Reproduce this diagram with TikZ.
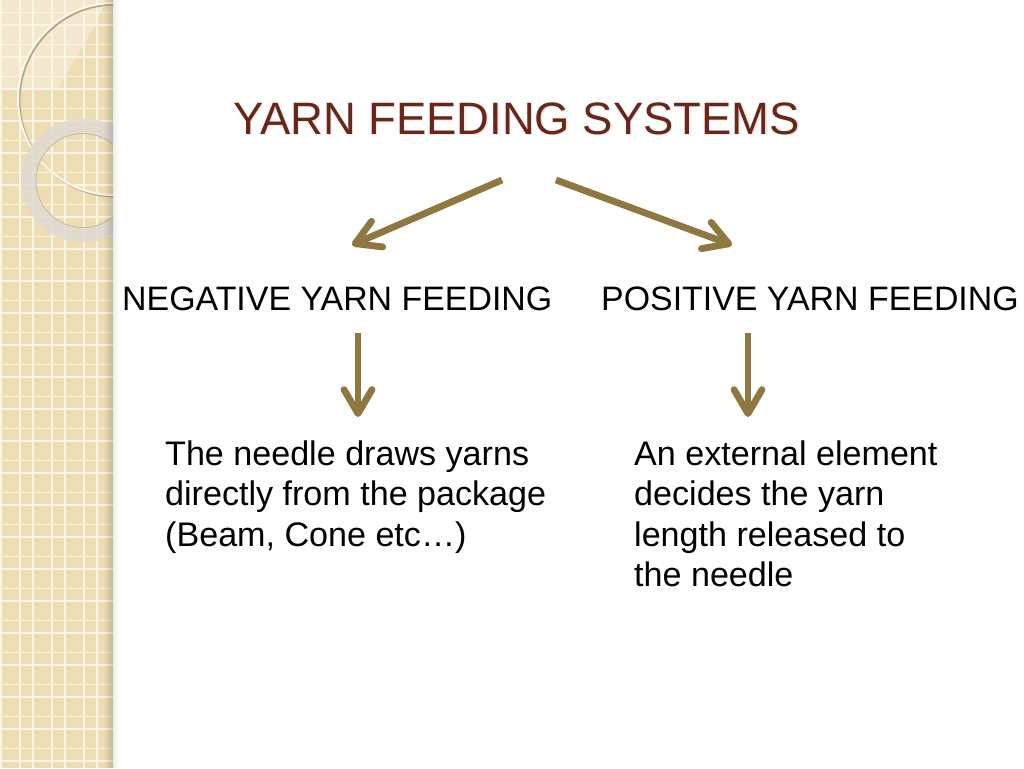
\documentclass[tikz,border=0pt]{standalone}
\usepackage{fontspec}
\setmainfont{Liberation Sans}
\usetikzlibrary{arrows.meta}
\definecolor{strip}{HTML}{EEDCB3}
\definecolor{stripl}{HTML}{F3E7CE}
\definecolor{gridc}{HTML}{FBF5E6}
\definecolor{cream}{HTML}{FCF8EC}
\definecolor{circshadow}{HTML}{B7A684}
\definecolor{ringc}{HTML}{DEDAD2}
\definecolor{ringedge}{HTML}{B9AF9C}
\definecolor{titlec}{HTML}{6A2616}
\definecolor{arrowc}{HTML}{8F7740}
\tikzset{
  titlestyle/.style={text=titlec, inner sep=0pt, font=\fontsize{45.4}{54}\selectfont},
  titleshadow/.style={text=black!40, opacity=0.2, inner sep=0pt, font=\fontsize{45.4}{54}\selectfont},
  subhead/.style={text=black, inner sep=0pt, anchor=base west, font=\fontsize{33.9}{40}\selectfont},
  bodytext/.style={text=black, inner sep=0pt, anchor=base west, font=\fontsize{34.1}{40.5}\selectfont},
  feedarrow/.style={draw=arrowc, line width=6.8pt, -{Straight Barb[length=24pt,width=28pt,round]}},
  gridline/.style={draw=gridc, line width=1.6pt}
}
\begin{document}
\begin{tikzpicture}[x=1pt,y=-1pt]
\useasboundingbox (0,0) rectangle (1024,768);
\fill[white] (0,0) rectangle (1024,768);
% decorative strip
\fill[strip] (0,0) rectangle (113,768);
\fill[stripl] (0,0) -- (106,0) -- (97,22) -- (57,90) -- (0,90) -- cycle;
\foreach \x in {1,20,33,52,65,84,97}
  \draw[gridline] (\x,0) -- (\x,768);
\foreach \k in {0,...,23}{
  \draw[gridline] (0,32*\k+12.5) -- (113,32*\k+12.5);
  \draw[gridline] (0,32*\k+25) -- (113,32*\k+25);
}
\begin{scope}
  \clip (0,0) rectangle (113,768);
  \draw[circshadow, line width=2pt] (115.5,100.5) circle (96);
  \draw[cream, line width=2pt] (114,99) circle (96);
  \fill[ringc, opacity=0.85, even odd rule] (83,180.5) circle (62) (83,180.5) circle (47);
  \draw[ringedge, line width=0.8pt, opacity=0.8] (83,180.5) circle (47);
\end{scope}
\foreach \i in {0,...,9}
  \fill[black, opacity=0.018*\i] (103+\i,0) rectangle (104+\i,768);
\foreach \i in {0,...,5}
  \fill[black, opacity=0.07-0.012*\i] (113+\i,0) rectangle (114+\i,768);
% title
\node[titleshadow, anchor=base] (tsh) at (518,135.5) {YARN FEEDING SYSTEMS};
\node[titlestyle, anchor=base] (title) at (516.5,134) {YARN FEEDING SYSTEMS};
% sub headings
\node[subhead] (neg) at (122,310) {NEGATIVE YARN FEEDING};
\node[subhead] (pos) at (601,310) {POSITIVE YARN FEEDING};
% body texts
\node[bodytext] (negtext) at (165,465) {\vtop{\baselineskip=40.5pt
  \hbox{The needle draws yarns}\hbox{directly from the package}\hbox{(Beam, Cone etc…)}}};
\node[bodytext] (postext) at (634,465) {\vtop{\baselineskip=40.5pt
  \hbox{An external element}\hbox{decides the yarn}\hbox{length released to}\hbox{the needle}}};
% arrows
\coordinate (a1s) at (502,180);
\coordinate (a1e) at (352,245);
\coordinate (a2s) at (556,180);
\coordinate (a2e) at (732,245);
\coordinate (a3s) at (358,333);
\coordinate (a3e) at (358,417);
\coordinate (a4s) at (748,333);
\coordinate (a4e) at (748,417);
\draw[feedarrow] (a1s) -- (a1e);
\draw[feedarrow] (a2s) -- (a2e);
\draw[feedarrow] (a3s) -- (a3e);
\draw[feedarrow] (a4s) -- (a4e);
\end{tikzpicture}
\end{document}
